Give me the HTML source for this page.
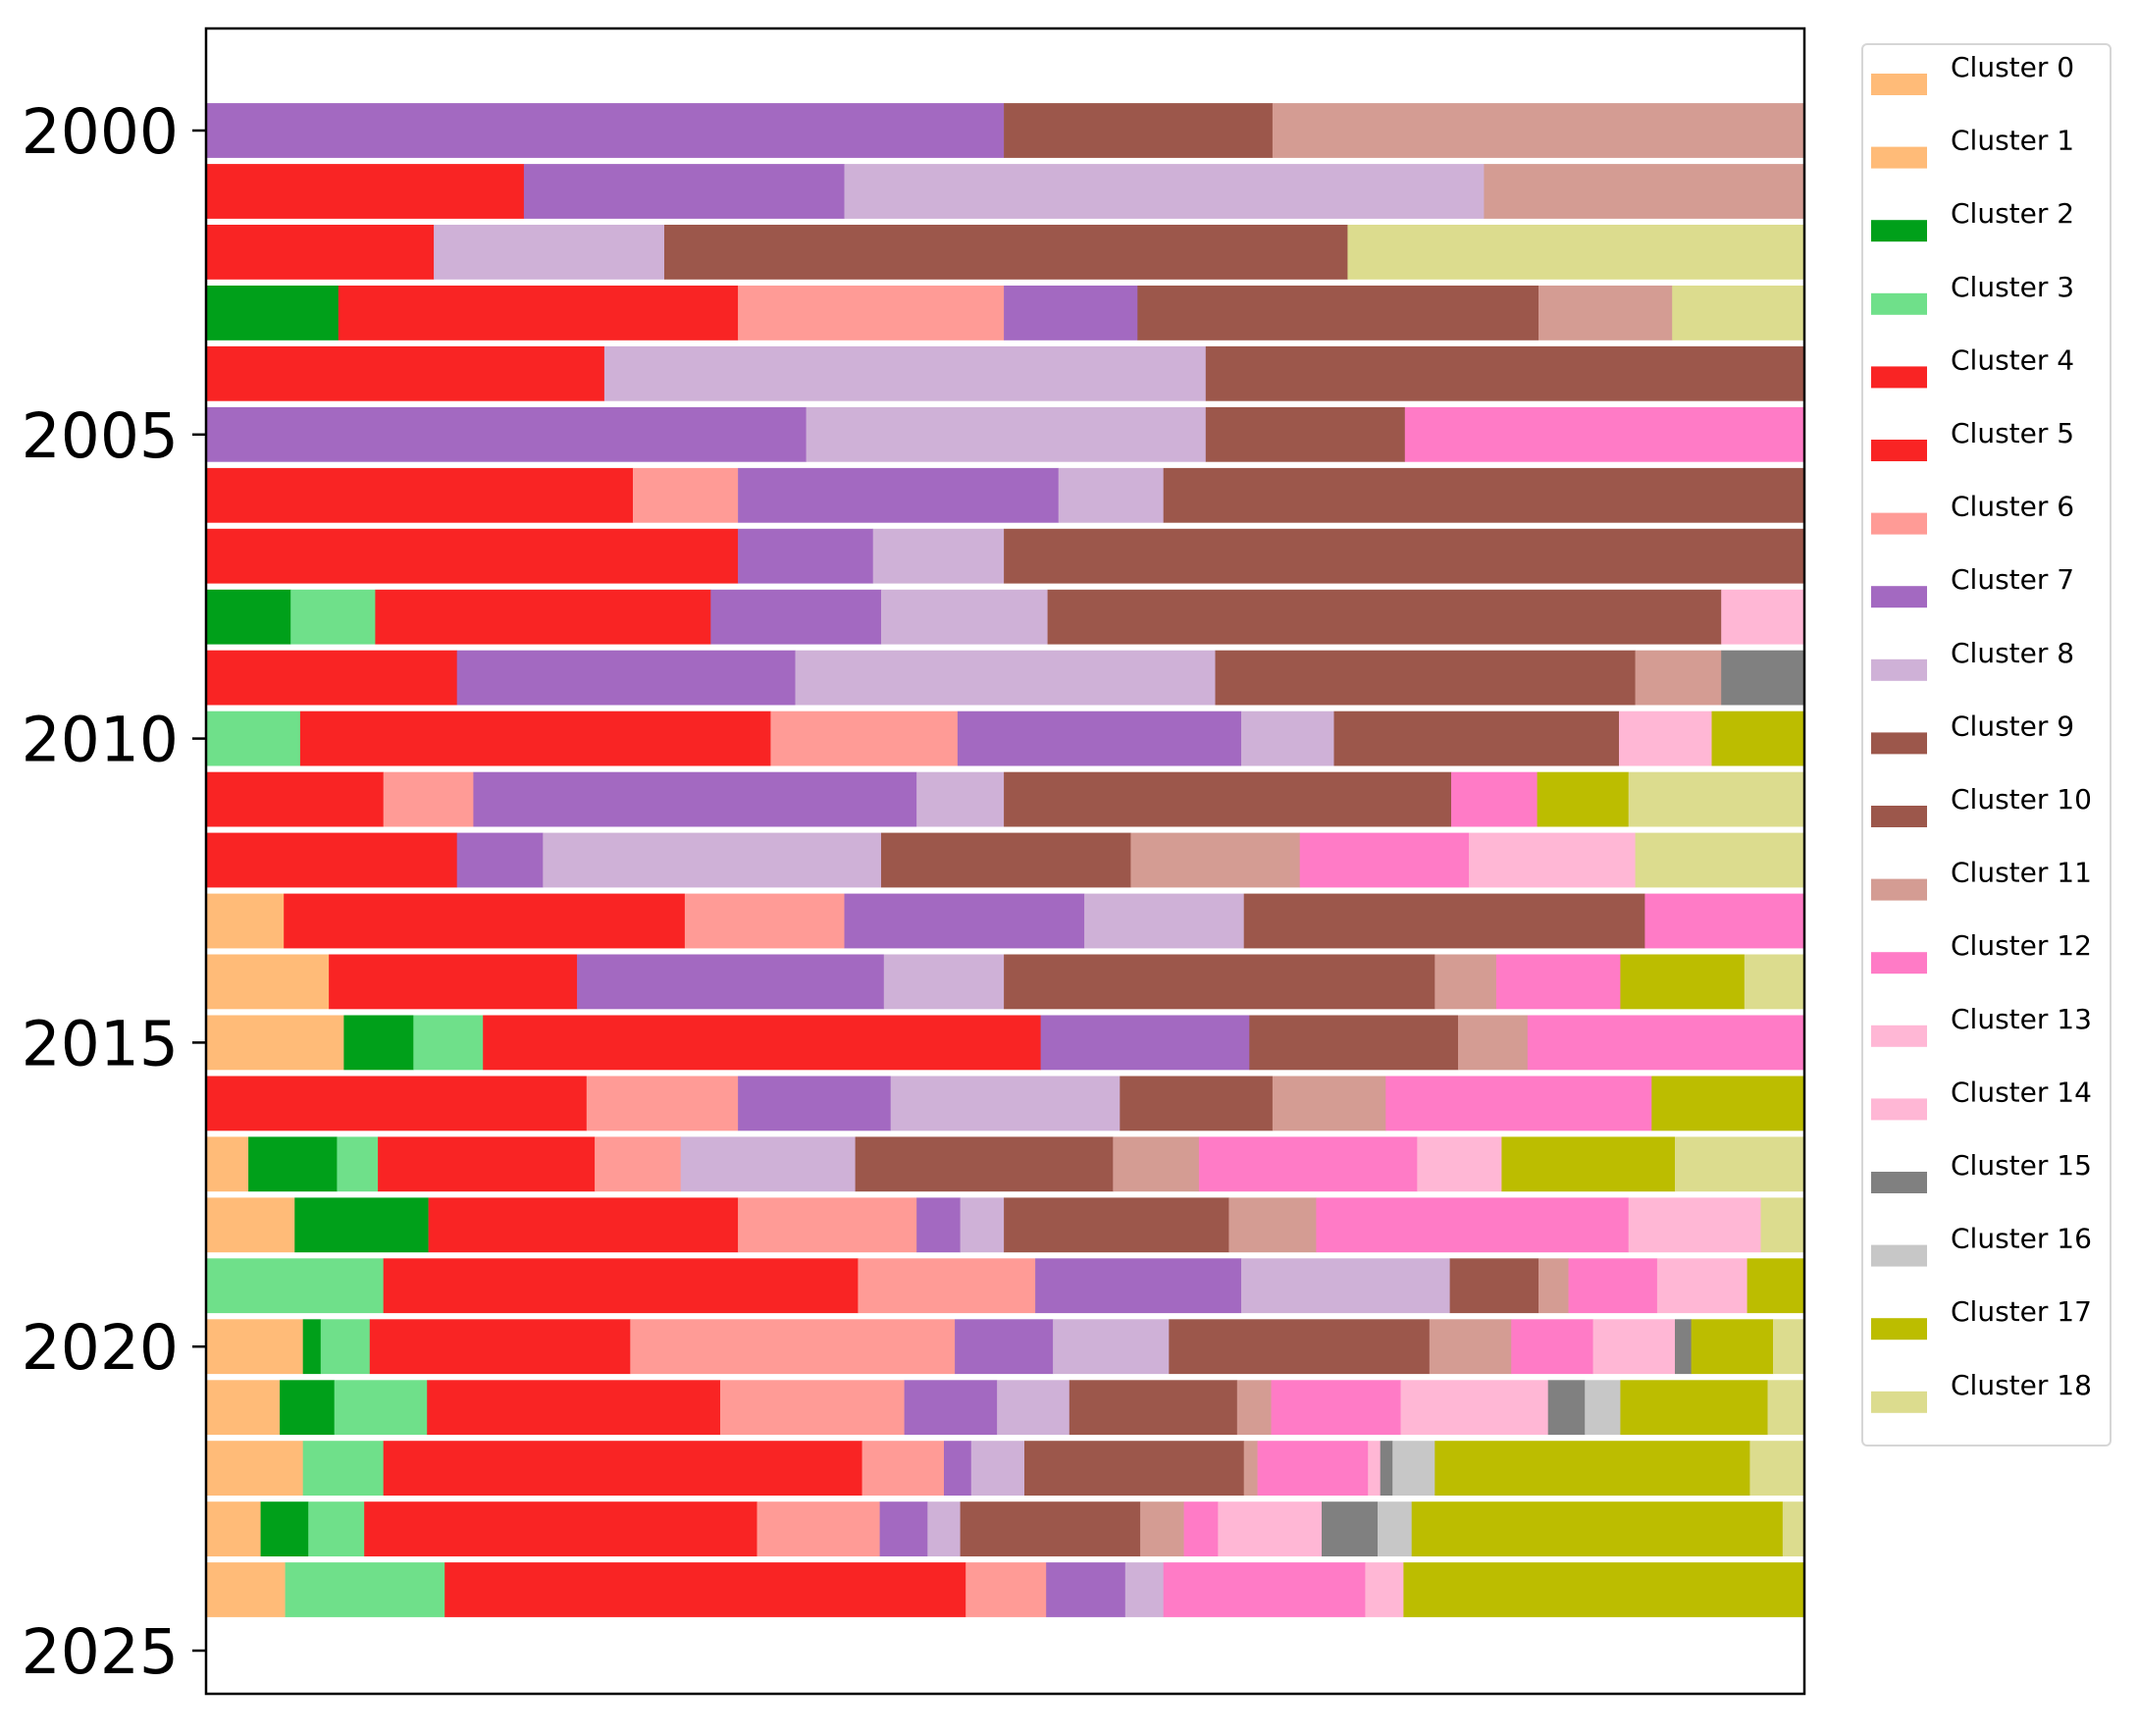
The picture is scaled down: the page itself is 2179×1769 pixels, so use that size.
<!DOCTYPE html>
<html><head><meta charset="utf-8"><style>
body{margin:0;background:#fff;}
svg text{font-family:"DejaVu Sans","Liberation Sans",sans-serif;}
</style></head><body>
<svg id="s" width="2179" height="1764" xmlns="http://www.w3.org/2000/svg"></svg>
<script>
const C={O0:"#ffbb78",G:"#00a01a",LG:"#6fe08a",R:"#f92424",S:"#ff9b96",P:"#a369c1",LP:"#cfb1d7",B:"#9c574b",PB:"#d49c93",PK:"#ff7bc6",LPK:"#ffb7d5",GR:"#808080",LG2:"#c7c7c7",O:"#bcbd00",K:"#dcdc8e"};
const rows=[
"P 736,B 933,PB 1323",
"R 384,P 619,LP 1088,PB 1323",
"R 318,LP 487,B 988,K 1323",
"G 248,R 541,S 736,P 834,B 1128,PB 1226,K 1323",
"R 443,LP 884,B 1323",
"P 591,LP 884,B 1030,PK 1323",
"R 464,S 541,P 776,LP 853,B 1323",
"R 541,P 640,LP 736,B 1323",
"G 213,LG 275,R 521,P 646,LP 768,B 1262,LPK 1323",
"R 335,P 583,LP 891,B 1199,PB 1262,GR 1323",
"LG 220,R 565,S 702,P 910,LP 978,B 1187,LPK 1255,O 1323",
"R 281,S 347,P 672,LP 736,B 1064,PK 1127,O 1194,K 1323",
"R 335,P 398,LP 646,B 829,PB 953,PK 1077,LPK 1199,K 1323",
"O0 208,R 502,S 619,P 795,LP 912,B 1206,PK 1323",
"O0 241,R 423,P 648,LP 736,B 1052,PB 1097,PK 1188,O 1279,K 1323",
"O0 252,G 303,LG 354,R 763,P 916,B 1069,PB 1120,PK 1323",
"R 430,S 541,P 653,LP 821,B 933,PB 1016,PK 1211,O 1323",
"O0 182,G 247,LG 277,R 436,S 499,LP 627,B 816,PB 879,PK 1039,LPK 1101,O 1228,K 1323",
"O0 216,G 314,R 541,S 672,P 704,LP 736,B 901,PB 965,PK 1194,LPK 1291,K 1323",
"LG 281,R 629,S 759,P 910,LP 1063,B 1128,PB 1150,PK 1215,LPK 1281,O 1323",
"O0 222,G 235,LG 271,R 462,S 700,P 772,LP 857,B 1048,PB 1108,PK 1168,LPK 1228,GR 1240,O 1300,K 1323",
"O0 205,G 245,LG 313,R 528,S 663,P 731,LP 784,B 907,PB 932,PK 1027,LPK 1135,GR 1162,LG2 1188,O 1296,K 1323",
"O0 222,LG 281,R 632,S 692,P 712,LP 751,B 912,PB 922,PK 1003,LPK 1012,GR 1021,LG2 1052,O 1283,K 1323",
"O0 191,G 226,LG 267,R 555,S 645,P 680,LP 704,B 836,PB 868,PK 893,LPK 969,GR 1010,LG2 1035,O 1307,K 1323",
"O0 209,LG 326,R 708,S 767,P 825,LP 853,PK 1001,LPK 1029,O 1323"];
const L=210,Rr=1839,T=29,Bt=1726,W=Rr-L;
const X=d=>L+(d-151)/1172*W;
const Y=y=>133+(y-2000)*61.96;
let h="";
rows.forEach((r,i)=>{let x0=151;const yc=Y(2000+i);
r.split(",").forEach(s=>{const [k,e]=s.trim().split(" ");const e1=+e;
h+=`<rect x="${X(x0).toFixed(1)}" y="${(yc-27.9).toFixed(1)}" width="${(X(e1)-X(x0)+0.3).toFixed(1)}" height="55.8" fill="${C[k]}"/>`;x0=e1;});});
h+=`<rect x="${L}" y="${T}" width="${W}" height="${Bt-T}" fill="none" stroke="#000" stroke-width="2.5"/>`;
for(let yr=2000;yr<=2025;yr+=5){const y=Y(yr);h+=`<line x1="${L-14}" y1="${y}" x2="${L}" y2="${y}" stroke="#000" stroke-width="2.5"/><text x="182" y="${y+23}" font-size="63" text-anchor="end">${yr}</text>`;}
const lc=["O0","O0","G","LG","R","R","S","P","LP","B","B","PB","PK","LPK","LPK","GR","LG2","O","K"];
h+=`<rect x="1898" y="45" width="253" height="1428" rx="5" fill="#fff" stroke="#d6d6d6" stroke-width="2"/>`;
lc.forEach((k,i)=>{const y=75+i*74.6;h+=`<rect x="1907" y="${y}" width="57" height="22" fill="${C[k]}"/><text x="1988" y="${y+3}" font-size="28">Cluster ${i}</text>`;});
document.getElementById("s").innerHTML=h;
</script>
</body></html>
